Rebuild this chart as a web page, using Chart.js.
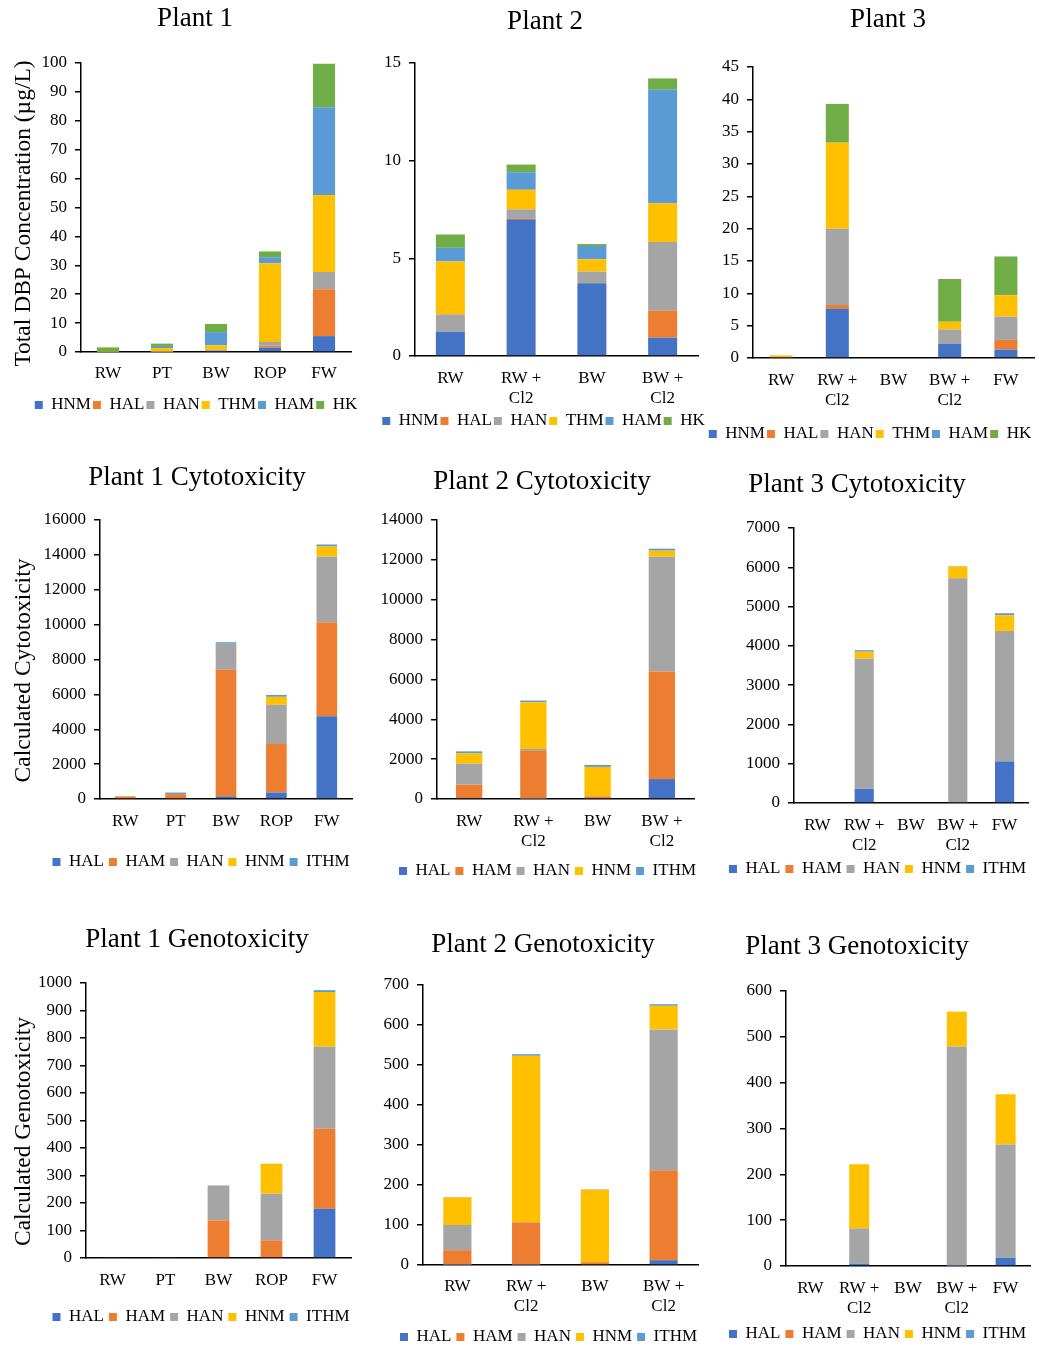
<!DOCTYPE html>
<html>
<head>
<meta charset="utf-8">
<script src="https://cdn.jsdelivr.net/npm/chart.js@4.4.1/dist/chart.umd.min.js"></script>
<style>
  body { margin: 0; background: #fff; overflow: hidden; width: 1039px; height: 1346px; position: relative; }
  canvas { position: absolute; }
</style>
</head>
<body>
<canvas id="c1" width="362" height="455" style="left:0px;top:0px"></canvas>
<canvas id="c2" width="350" height="455" style="left:360px;top:0px"></canvas>
<canvas id="c3" width="339" height="455" style="left:700px;top:0px"></canvas>
<canvas id="c4" width="362" height="460" style="left:0px;top:455px"></canvas>
<canvas id="c5" width="350" height="460" style="left:360px;top:455px"></canvas>
<canvas id="c6" width="339" height="460" style="left:700px;top:455px"></canvas>
<canvas id="c7" width="362" height="450" style="left:0px;top:915px"></canvas>
<canvas id="c8" width="350" height="450" style="left:360px;top:915px"></canvas>
<canvas id="c9" width="339" height="450" style="left:700px;top:915px"></canvas>
<script>
// categories
var cats1 = ['RW', 'PT', 'BW', 'ROP', 'FW'];
var cats2 = ['RW', ['RW +', 'Cl2'], 'BW', ['BW +', 'Cl2']];
var cats3 = ['RW', ['RW +', 'Cl2'], 'BW', ['BW +', 'Cl2'], 'FW'];

// series names
var dbpNames = ['HNM', 'HAL', 'HAN', 'THM', 'HAM', 'HK'];
var toxNames = ['HAL', 'HAM', 'HAN', 'HNM', 'ITHM'];

// DBP concentrations (ug/L), one row per class in dbpNames order
var plant1Dbp = [
    [0, 0, 0, 1.5, 5.5],
    [0, 0, 0, 0.7, 16.2],
    [0, 0.1, 0.8, 1.3, 6.0],
    [0.1, 1.3, 1.5, 27.2, 26.6],
    [0, 0.7, 4.6, 2.1, 30.4],
    [1.5, 0.8, 2.8, 2.0, 15.0]
];
var plant2Dbp = [
    [1.24, 7.0, 3.72, 0.94],
    [0, 0.05, 0, 1.38],
    [0.89, 0.46, 0.6, 3.51],
    [2.71, 1.0, 0.63, 1.99],
    [0.7, 0.9, 0.68, 5.81],
    [0.68, 0.39, 0.1, 0.58]
];
var plant3Dbp = [
    [0, 7.6, 0, 2.2, 1.3],
    [0, 0.6, 0, 0, 1.5],
    [0, 11.8, 0, 2.2, 3.6],
    [0.4, 13.3, 0, 1.2, 3.3],
    [0, 0, 0, 0, 0],
    [0, 6.0, 0, 6.6, 6.0]
];

// calculated cytotoxicity, rows in toxNames order
var plant1Cyto = [
    [0, 0, 150, 380, 4740],
    [150, 280, 7260, 2770, 5390],
    [0, 0, 1490, 2250, 3780],
    [0, 0, 0, 460, 570],
    [0, 90, 90, 110, 115]
];
var plant2Cyto = [
    [50, 20, 0, 1000],
    [670, 2390, 130, 5400],
    [1050, 100, 10, 5760],
    [520, 2350, 1470, 300],
    [100, 80, 100, 100]
];
var plant3Cyto = [
    [0, 360, 0, 0, 1060],
    [0, 0, 0, 0, 0],
    [0, 3320, 0, 5720, 3320],
    [0, 170, 0, 300, 400],
    [0, 40, 0, 10, 50]
];

// calculated genotoxicity, rows in toxNames order
var plant1Geno = [
    [0, 0, 0, 0, 179],
    [3, 3, 137, 64, 291],
    [0, 0, 127, 170, 298],
    [0, 0, 0, 109, 199],
    [0, 0, 0, 0, 7]
];
var plant2Geno = [
    [1, 1, 0, 12],
    [36, 105, 7, 225],
    [63, 1, 0, 352],
    [69, 416, 181, 59],
    [1, 4, 1, 4]
];
var plant3Geno = [
    [0, 5, 0, 1, 18],
    [0, 0, 0, 0, 0],
    [0, 77, 0, 478, 247],
    [0, 140, 0, 76, 110],
    [0, 0, 0, 0, 0]
];

var palette = ['#4472C4', '#ED7D31', '#A5A5A5', '#FFC000', '#5B9BD5', '#70AD47'];

Chart.defaults.font.family = '"Liberation Serif", "Times New Roman", serif';
Chart.defaults.color = '#000';

// move title, legend and y title to where the original has them
var nudge = {
    id: 'nudge',
    afterLayout: function(chart, args, opts) {
        var t = chart.titleBlock, l = chart.legend, sc = chart.scales.y, w;
        if (t && opts.titleX != null) {
            w = t.right - t.left;
            t.left = opts.titleX - w / 2;
            t.right = t.left + w;
        }
        if (l && opts.legendX != null) {
            w = l.right - l.left;
            l.left = opts.legendX - w / 2;
            l.right = l.left + w;
        }
        if (sc && opts.yTitleDy && !sc._nudged) {
            var orig = sc.drawTitle;
            sc.drawTitle = function() {
                var c = this.ctx;
                c.save();
                c.translate(0, opts.yTitleDy);
                orig.apply(this, arguments);
                c.restore();
            };
            sc._nudged = true;
        }
    }
};

function panel(id, title, cats, names, rows, yMax, yStep, lay) {
    var datasets = names.map(function(n, i) {
        return { label: n, data: rows[i], backgroundColor: palette[i], borderWidth: 0 };
    });
    new Chart(document.getElementById(id), {
        type: 'bar',
        data: { labels: cats, datasets: datasets },
        options: {
            responsive: false,
            animation: false,
            layout: { padding: { left: 0, right: lay.pr, top: 0, bottom: lay.pb } },
            datasets: { bar: { categoryPercentage: 1, barPercentage: 0.41 } },
            scales: {
                x: {
                    stacked: true,
                    grid: { display: false, drawTicks: false },
                    border: { display: true, color: '#000', width: 1.5 },
                    ticks: { font: { size: 17, lineHeight: 1.15 }, padding: lay.xpad + 2, maxRotation: 0, autoSkip: false },
                    afterFit: function(s) { s.height = lay.xh; }
                },
                y: {
                    stacked: true,
                    min: 0,
                    max: yMax,
                    ticks: { stepSize: yStep, font: { size: 17 }, padding: 8, callback: function(v) { return String(v); } },
                    grid: { drawOnChartArea: false, drawTicks: true, tickLength: 6, color: '#000', lineWidth: 1.5 },
                    border: { display: true, color: '#000', width: 1.5 },
                    title: lay.ytitle ? {
                        display: true, text: lay.ytitle, font: { size: 23.5 }, padding: { top: 9.4, bottom: 0 }
                    } : { display: false },
                    afterFit: function(s) { s.width = lay.yw; }
                }
            },
            plugins: {
                title: {
                    display: true, text: title, color: '#000',
                    font: { size: 27, weight: 'normal', lineHeight: 1.2 },
                    padding: { top: lay.tt - 0.6, bottom: lay.tb - 0.6 }
                },
                legend: {
                    position: 'bottom',
                    labels: { boxWidth: 8, boxHeight: 8, padding: lay.lp, font: { size: 17 } }
                },
                tooltip: { enabled: false },
                nudge: { titleX: lay.tx, legendX: lay.lx, yTitleDy: lay.ydy }
            }
        },
        plugins: [nudge]
    });
}

panel('c1', 'Plant 1', cats1, dbpNames, plant1Dbp, 100, 10,
    { pr: 11, pb: 31.5, yw: 81, xh: 42.5, xpad: 10.2, tt: 3.4, tb: 28.4, lp: 2, tx: 195, lx: 196,
      ytitle: 'Total DBP Concentration (µg/L)', ydy: 6 });
panel('c2', 'Plant 2', cats2, dbpNames, plant2Dbp, 15, 5,
    { pr: 12, pb: 15.5, yw: 55, xh: 54.5, xpad: 11.2, tt: 6.4, tb: 25.4, lp: 2, tx: 185, lx: 183.5 });
panel('c3', 'Plant 3', cats3, dbpNames, plant3Dbp, 45, 5,
    { pr: 5, pb: 2.5, yw: 53, xh: 65.5, xpad: 11.2, tt: 4.4, tb: 31.4, lp: 2, tx: 188, lx: 170 });

panel('c4', 'Plant 1 Cytotoxicity', cats1, toxNames, plant1Cyto, 16000, 2000,
    { pr: 10, pb: 34.5, yw: 100, xh: 49.5, xpad: 11.2, tt: 7.4, tb: 26.4, lp: 5, tx: 197, lx: 201,
      ytitle: 'Calculated Cytotoxicity', ydy: 11 });
panel('c5', 'Plant 2 Cytotoxicity', cats2, toxNames, plant2Cyto, 14000, 2000,
    { pr: 16, pb: 25.5, yw: 77, xh: 58.5, xpad: 11.2, tt: 11.4, tb: 22.4, lp: 5, tx: 182, lx: 187.5 });
panel('c6', 'Plant 3 Cytotoxicity', cats3, toxNames, plant3Cyto, 7000, 1000,
    { pr: 11, pb: 27.5, yw: 94, xh: 52.5, xpad: 11.2, tt: 14.4, tb: 27.4, lp: 5, tx: 157, lx: 177.5 });

panel('c7', 'Plant 1 Genotoxicity', cats1, toxNames, plant1Geno, 1000, 100,
    { pr: 11, pb: 29.5, yw: 86, xh: 45.5, xpad: 11.2, tt: 9.4, tb: 27.4, lp: 5, tx: 197, lx: 201,
      ytitle: 'Calculated Genotoxicity', ydy: 11 });
panel('c8', 'Plant 2 Genotoxicity', cats2, toxNames, plant2Geno, 700, 100,
    { pr: 12, pb: 9.5, yw: 63, xh: 58.5, xpad: 10.2, tt: 14.4, tb: 24.4, lp: 5, tx: 183, lx: 188.5 });
panel('c9', 'Plant 3 Genotoxicity', cats3, toxNames, plant3Geno, 600, 100,
    { pr: 9, pb: 12.5, yw: 86, xh: 54.5, xpad: 11.2, tt: 16.4, tb: 28.4, lp: 5, tx: 157, lx: 177.5 });
</script>
</body>
</html>
